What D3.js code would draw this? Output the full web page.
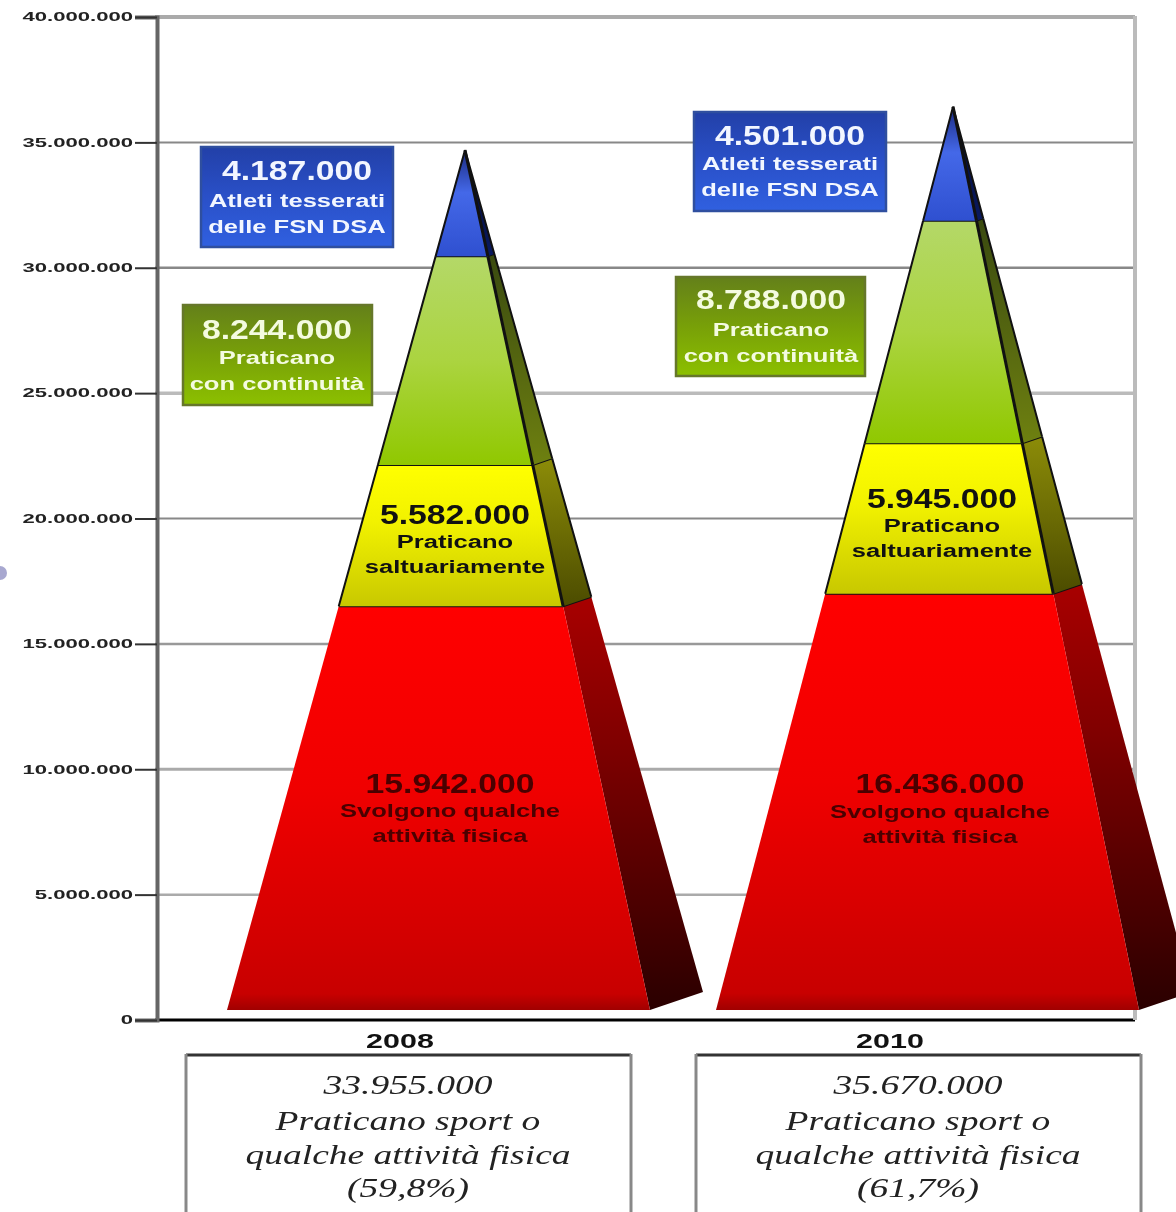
<!DOCTYPE html>
<html>
<head>
<meta charset="utf-8">
<script src="https://cdn.jsdelivr.net/npm/d3@7"></script>
<style>
html, body { margin: 0; padding: 0; background: #fff; overflow: hidden; }
svg { display: block; filter: blur(0.6px); }
</style>
</head>
<body>
<svg id="svg1" width="1176" height="1212"></svg>
<script>
var years = ['2008', '2010'];
var tickValues = [0, 5000000, 10000000, 15000000, 20000000, 25000000, 30000000, 35000000, 40000000];
var gridColors = ['#000', '#aaa', '#aaa', '#999', '#888', '#bbb', '#888', '#888', '#aaa'];
var gridWidths = [3, 2.5, 3, 2.5, 2, 3.5, 2.5, 2, 4];

// pyramid layers, bottom to top
var layerNames = ['red', 'yellow', 'green', 'blue'];
var values2008 = [15942000, 5582000, 8244000, 4187000];
var values2010 = [16436000, 5945000, 8788000, 4501000];
var valueLabels2008 = ['15.942.000', '5.582.000', '8.244.000', '4.187.000'];
var valueLabels2010 = ['16.436.000', '5.945.000', '8.788.000', '4.501.000'];
var captions = [
    ['Svolgono qualche', 'attività fisica'],
    ['Praticano', 'saltuariamente'],
    ['Praticano', 'con continuità'],
    ['Atleti tesserati', 'delle FSN DSA']
];
var totals = ['33.955.000', '35.670.000'];
var totalLines = ['Praticano sport o', 'qualche attività fisica'];
var percents = ['(59,8%)', '(61,7%)'];

var svg = d3.select('svg');
var defs = svg.append('defs');

function gradient(id, stops) {
    var g = defs.append('linearGradient').attr('id', id)
        .attr('x1', 0).attr('x2', 0).attr('y1', 0).attr('y2', 1);
    stops.forEach(function (s) {
        g.append('stop').attr('offset', s[0]).attr('stop-color', s[1]);
    });
}
gradient('front-red', [[0, '#ff0000'], [0.45, '#f00000'], [0.96, '#c80000'], [1, '#a00000']]);
gradient('side-red', [[0, '#a80000'], [0.35, '#800000'], [1, '#2a0000']]);
gradient('front-yellow', [[0, '#ffff00'], [0.4, '#f2f200'], [1, '#c8c800']]);
gradient('side-yellow', [[0, '#8c8c08'], [1, '#4c4c00']]);
gradient('front-green', [[0, '#b4d868'], [0.5, '#abd440'], [1, '#90c800']]);
gradient('side-green', [[0, '#3a4a10'], [1, '#6e8010']]);
gradient('front-blue', [[0, '#1a2a80'], [0.4, '#4468e8'], [1, '#2f50d0']]);
gradient('side-blue', [[0, '#000830'], [1, '#0a1a60']]);
gradient('box-blue', [[0, '#2240a8'], [0.5, '#2a50c8'], [1, '#3060e0']]);
gradient('box-green', [[0, '#64801a'], [0.5, '#78a008'], [1, '#8cc000']]);

// scales
var y = d3.scaleLinear().domain([0, 40000000]).range([1020, 17]);
var x = d3.scaleBand().domain(years).range([155, 1135]);
// the pyramids are drawn a bit taller than the axis and sit on their own base
var yPyramid = d3.scaleLinear().domain([0, 40000000]).range([1010, -3]);

var labelFont = 'Liberation Sans, Arial, sans-serif';
var serifFont = 'Liberation Serif, Times New Roman, serif';

// the source picture is stretched sideways, so text gets stretched too
function stretch(sel, factor) {
    sel.each(function () {
        var w = this.getComputedTextLength();
        d3.select(this).attr('textLength', w * factor).attr('lengthAdjust', 'spacingAndGlyphs');
    });
}

// frame + grid
svg.append('circle').attr('cx', 0).attr('cy', 573).attr('r', 7).attr('fill', '#a8a8d0');

svg.selectAll('.grid')
    .data(tickValues)
    .enter()
    .append('line')
    .attr('class', 'grid')
    .attr('x1', 155)
    .attr('x2', 1135)
    .attr('y1', function (d) { return y(d); })
    .attr('y2', function (d) { return y(d); })
    .attr('stroke', function (d, i) { return gridColors[i]; })
    .attr('stroke-width', function (d, i) { return gridWidths[i]; });

svg.append('line').attr('x1', 1135).attr('x2', 1135).attr('y1', 16).attr('y2', 1020)
    .attr('stroke', '#bbb').attr('stroke-width', 4);

var yAxis = d3.axisLeft(y)
    .tickValues(tickValues)
    .tickSize(22)
    .tickPadding(2)
    .tickFormat(function (d) { return d3.format(',')(d).replace(/,/g, '.'); });

var axisG = svg.append('g').attr('transform', 'translate(157,0)').call(yAxis);
axisG.select('.domain').attr('stroke', '#666').attr('stroke-width', 4);
axisG.selectAll('.tick line').attr('stroke', '#333').attr('stroke-width', 2);
axisG.selectAll('.tick text')
    .attr('font-family', labelFont)
    .attr('font-size', 12)
    .attr('font-weight', 'bold')
    .attr('fill', '#222')
    .call(stretch, 1.84);

// x labels
svg.selectAll('.year')
    .data(years)
    .enter()
    .append('text')
    .attr('class', 'year')
    .attr('x', function (d) { return x(d) + x.bandwidth() / 2; })
    .attr('y', 1048)
    .attr('text-anchor', 'middle')
    .attr('font-family', labelFont)
    .attr('font-size', 21)
    .attr('font-weight', 'bold')
    .attr('fill', '#111')
    .text(function (d) { return d; })
    .call(stretch, 1.45);

// pyramids
var halfBase = 211.5;
var sideRun = 53;         // how far the side face reaches past the front base corner
var sideRise = 18;

function drawPyramid(year, values, frontOffset, apexOffset) {
    var cx = x(year) + x.bandwidth() / 2;
    var total = d3.sum(values);
    var base = cx + frontOffset;
    var apex = [cx + apexOffset, yPyramid(total)];
    var baseY = yPyramid(0);

    function lerp(a, b, t) { return [a[0] + (b[0] - a[0]) * t, a[1] + (b[1] - a[1]) * t]; }
    var bl = [base - halfBase, baseY];
    var br = [base + halfBase, baseY];
    var bs = [base + halfBase + sideRun, baseY - sideRise];

    var line = d3.line();
    var g = svg.append('g');
    var from = 0;
    values.forEach(function (v, i) {
        var to = from + v;
        var t0 = from / total;
        var t1 = to / total;
        var name = layerNames[i];
        var a = lerp(br, apex, t0), b = lerp(bs, apex, t0), c = lerp(bs, apex, t1), d = lerp(br, apex, t1);
        g.append('path')
            .attr('d', line([a, b, c, d]) + 'Z')
            .attr('fill', 'url(#side-' + name + ')');
        var e = lerp(bl, apex, t0), f = lerp(bl, apex, t1);
        g.append('path')
            .attr('d', line([e, a, d, f]) + 'Z')
            .attr('fill', 'url(#front-' + name + ')');
        if (i > 0) {
            // dark seams on everything above the red block
            g.append('path').attr('d', line([e, f]) + line([b, c]))
                .attr('fill', 'none').attr('stroke', '#111').attr('stroke-width', 2);
            g.append('path').attr('d', line([a, d]))
                .attr('fill', 'none').attr('stroke', '#111').attr('stroke-width', 3);
        }
        g.append('path').attr('d', line([f, d, c]))
            .attr('fill', 'none').attr('stroke', '#111').attr('stroke-width', 2);
        from = to;
    });
}
drawPyramid('2008', values2008, 38.5, 65);
drawPyramid('2010', values2010, 37.5, 63);

// label blocks: layer index, centre x, y of the three text lines, text colour, optional box
var blocks = [
    { year: 0, layer: 0, cx: 450, ys: [793, 817, 842], color: '#4a0000' },
    { year: 1, layer: 0, cx: 940, ys: [793, 818, 843], color: '#4a0000' },
    { year: 0, layer: 1, cx: 455, ys: [524, 548, 573], color: '#111' },
    { year: 1, layer: 1, cx: 942, ys: [508, 532, 557], color: '#111' },
    { year: 0, layer: 2, cx: 277, ys: [339, 364, 390], color: '#f4fbe0', box: [183, 305, 189, 100], fill: 'box-green', stroke: '#66772a' },
    { year: 1, layer: 2, cx: 771, ys: [309, 336, 362], color: '#f4fbe0', box: [676, 277, 189, 99], fill: 'box-green', stroke: '#66772a' },
    { year: 0, layer: 3, cx: 297, ys: [180, 207, 233], color: '#f2f6ff', box: [201, 147, 192, 100], fill: 'box-blue', stroke: '#2f4f9f' },
    { year: 1, layer: 3, cx: 790, ys: [145, 170, 196], color: '#f2f6ff', box: [694, 112, 192, 99], fill: 'box-blue', stroke: '#2f4f9f' }
];

blocks.forEach(function (b) {
    if (b.box) {
        svg.append('rect')
            .attr('x', b.box[0]).attr('y', b.box[1])
            .attr('width', b.box[2]).attr('height', b.box[3])
            .attr('fill', 'url(#' + b.fill + ')')
            .attr('stroke', b.stroke).attr('stroke-width', 2.5);
    }
    var labels = b.year === 0 ? valueLabels2008 : valueLabels2010;
    var lines = [labels[b.layer]].concat(captions[b.layer]);
    lines.forEach(function (txt, i) {
        svg.append('text')
            .attr('x', b.cx)
            .attr('y', b.ys[i])
            .attr('text-anchor', 'middle')
            .attr('font-family', labelFont)
            .attr('font-weight', 'bold')
            .attr('font-size', i === 0 ? 27 : 18)
            .attr('fill', b.color)
            .text(txt)
            .call(stretch, i === 0 ? 1.25 : 1.42);
    });
});

// boxes under the axis
var boxLefts = [186, 696];
years.forEach(function (yr, i) {
    var left = boxLefts[i];
    var boxW = 445;
    svg.append('line').attr('x1', left).attr('x2', left + boxW).attr('y1', 1055).attr('y2', 1055)
        .attr('stroke', '#333').attr('stroke-width', 3);
    [left, left + boxW].forEach(function (lx) {
        svg.append('line').attr('x1', lx).attr('x2', lx).attr('y1', 1054).attr('y2', 1212)
            .attr('stroke', '#888').attr('stroke-width', 3);
    });
    var rows = [totals[i], totalLines[0], totalLines[1], percents[i]];
    var rowY = [1094, 1130, 1164, 1197];
    rows.forEach(function (txt, j) {
        svg.append('text')
            .attr('x', left + 222)
            .attr('y', rowY[j])
            .attr('text-anchor', 'middle')
            .attr('font-family', serifFont)
            .attr('font-style', 'italic')
            .attr('font-size', 28)
            .attr('fill', '#222')
            .text(txt)
            .call(stretch, 1.34);
    });
});
</script>
</body>
</html>
